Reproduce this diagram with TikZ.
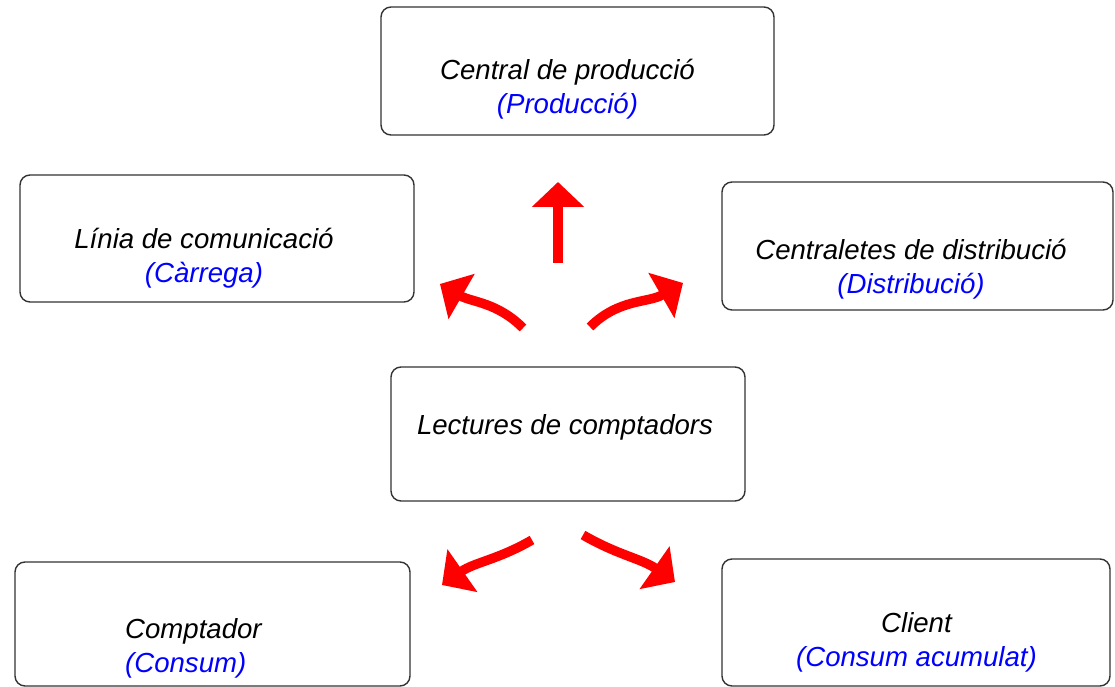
\documentclass[tikz,border=0pt]{standalone}
\usepackage{fontspec}
\setmainfont{Liberation Sans}
\usetikzlibrary{arrows.meta}
\begin{document}
\begin{tikzpicture}[
		caixa/.style={draw=black!80,line width=.8pt,rounded corners=.2cm},
		etiq/.style={align=center,font=\fontsize{15.7}{19.5}\selectfont\itshape},
		fletxa/.style={red,line width=.19cm,-{Triangle[length=.5cm,width=1.02cm]}}
	]
		\useasboundingbox (0,0) rectangle (22.3,13.74);
		% caixes
		\node[caixa,minimum width=7.86cm,minimum height=2.56cm] (produccio) at (11.55,12.32) {};
		\node[caixa,minimum width=7.88cm,minimum height=2.54cm] (linia) at (4.34,8.97) {};
		\node[caixa,minimum width=7.82cm,minimum height=2.56cm] (distribucio) at (18.35,8.82) {};
		\node[caixa,minimum width=7.08cm,minimum height=2.68cm] (lectures) at (11.36,5.06) {};
		\node[caixa,minimum width=7.9cm,minimum height=2.48cm] (comptador) at (4.25,1.26) {};
		\node[caixa,minimum width=7.76cm,minimum height=2.54cm] (client) at (18.32,1.29) {};
		% textos
		\node[etiq] (produccio-t) at (11.35,11.95) {Central de producci\'o\\\textcolor{blue}{(Producci\'o)}};
		\node[etiq] (linia-t) at (4.08,8.58) {L\'inia de comunicaci\'o\\\textcolor{blue}{(C\`arrega)}};
		\node[etiq] (distribucio-t) at (18.22,8.36) {Centraletes de distribuci\'o\\\textcolor{blue}{(Distribuci\'o)}};
		\node[etiq] (lectures-t) at (11.3,5.19) {Lectures de comptadors};
		\node[etiq,align=left,anchor=west] (comptador-t) at (2.38,0.78) {Comptador\\\textcolor{blue}{(Consum)}};
		\node[etiq] (client-t) at (18.33,0.9) {Client\\\textcolor{blue}{(Consum acumulat)}};
		% fletxes
		\coordinate (up0) at (11.16,8.48);
		\coordinate (up1) at (11.16,10.1);
		\coordinate (ul0) at (10.46,7.18);
		\coordinate (ul1) at (8.8,8.06);
		\coordinate (ur0) at (11.8,7.2);
		\coordinate (ur1) at (13.66,8.08);
		\coordinate (ll0) at (10.64,2.94);
		\coordinate (ll1) at (8.84,2.04);
		\coordinate (lr0) at (11.66,3.04);
		\coordinate (lr1) at (13.5,2.1);
		\draw[fletxa] (up0) -- (up1);
		\draw[fletxa] (ul0) to[out=135,in=-30] (ul1);
		\draw[fletxa] (ur0) to[out=45,in=210] (ur1);
		\draw[fletxa] (ll0) to[out=210,in=35] (ll1);
		\draw[fletxa] (lr0) to[out=-30,in=145] (lr1);
	\end{tikzpicture}
\end{document}
